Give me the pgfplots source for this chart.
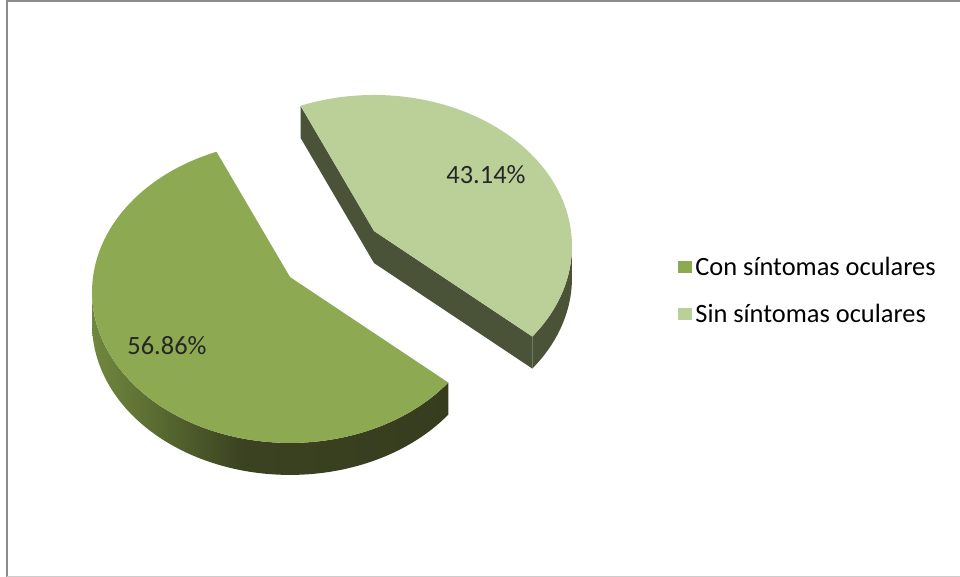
\documentclass[border=0pt]{standalone}
\usepackage{pgfplots}
\pgfplotsset{compat=1.18}
\usepackage{pgfplotstable}
\usepackage{fontspec}
\setmainfont{Carlito}

\definecolor{bigtop}{RGB}{141,169,82}
\definecolor{smalltop}{RGB}{187,208,152}
\definecolor{smallside}{RGB}{74,82,56}
\definecolor{framegray}{RGB}{140,140,140}
\pgfdeclarehorizontalshading{bigside}{100bp}{rgb(0bp)=(0.44,0.53,0.25); rgb(25bp)=(0.44,0.53,0.25); rgb(31bp)=(0.38,0.46,0.21); rgb(46bp)=(0.23,0.26,0.13); rgb(75bp)=(0.21,0.24,0.12); rgb(100bp)=(0.21,0.24,0.12)}

\pgfplotstableread{
label value
Con 56.86
Sin 43.14
}\piedata
\pgfplotstablegetelem{0}{value}\of\piedata \let\valA\pgfplotsretval%
\pgfplotstablegetelem{1}{value}\of\piedata \let\valB\pgfplotsretval%
\pgfmathsetmacro{\tA}{114}%
\pgfmathsetmacro{\tB}{\tA+3.6*\valA}%
\pgfmathsetmacro{\tC}{\tB+3.6*\valB}%

\begin{document}
\begin{tikzpicture}
\begin{axis}[
  at={(0,0)}, anchor=south west,
  width=960bp, height=577bp, scale only axis,
  xmin=0, xmax=960, ymin=0, ymax=577, y dir=reverse,
  hide axis, clip=false,
  declare function={
    den(\t)=1+0.099*sin(\t);
    ex(\t)=197*cos(\t)/den(\t);
    ey(\t)=-149.5*sin(\t)/den(\t);
    rr(\s)=(\s>=0)*(\s<=100);
    angp(\s,\p,\q)=\p+(\q-\p)*min(max(\s,0),100)/100;
    bang(\s,\p,\q)=(\s<=100)*(\p+(\q-\p)*\s/100)+(\s>100)*(\q-(\q-\p)*(\s-101)/100);
    cf(\s)=(\s>=1)*(\s<=2);
  },
  legend style={at={(axis cs:675,290.5)}, anchor=west, draw=none, fill=none,
    font=\fontsize{26.5}{30}\selectfont, row sep=25bp,
    nodes={inner xsep=3.2bp, inner ysep=1bp}},
  legend cell align=left,
  legend image code/.code={\fill[#1, draw=none] (0bp,-6bp) rectangle (14bp,6bp);},
]
% frame
\draw[framegray, line width=2.5bp] (axis cs:7,577) -- (axis cs:7,1.2) -- (axis cs:960,1.2);
\draw[gray!40, line width=1bp] (axis cs:7,576.5) -- (axis cs:960,576.5);

% big slice: side band
\addplot[forget plot, draw=none, shading=bigside, samples at={0,1,...,201}, variable=\s]
  ({290+ex(bang(\s,185.7,\tB))},{277+ey(bang(\s,185.7,\tB))+(\s>100)*32});
% big slice: top face
\addplot[forget plot, draw=none, fill=bigtop, samples at={-1,0,...,101}, variable=\s]
  ({290+rr(\s)*ex(angp(\s,\tA,\tB))},{277+rr(\s)*ey(angp(\s,\tA,\tB))});

% small slice: cut faces
\addplot[forget plot, draw=none, fill=smallside, samples at={0,1,2,3}, variable=\s]
  ({374+cf(\s)*ex(\tC)},{231+cf(\s)*ey(\tC)+(\s>=2)*32});
\addplot[forget plot, draw=none, fill=smallside, samples at={0,1,2,3}, variable=\s]
  ({374+cf(\s)*ex(\tB)},{231+cf(\s)*ey(\tB)+(\s>=2)*32});
% small slice: side band
\addplot[forget plot, draw=none, fill=smallside, samples at={0,1,...,201}, variable=\s]
  ({374+ex(bang(\s,\tB,354.3))},{231+ey(bang(\s,\tB,354.3))+(\s>100)*32});
% small slice: top face
\addplot[forget plot, draw=none, fill=smalltop, samples at={-1,0,...,101}, variable=\s]
  ({374+rr(\s)*ex(angp(\s,\tB,\tC))},{231+rr(\s)*ey(angp(\s,\tB,\tC))});

% data labels
\node[font=\fontsize{26.5}{30}\selectfont, text=black!85] at (axis cs:167,346) {56.86\%};
\node[font=\fontsize{26.5}{30}\selectfont, text=black!85] at (axis cs:486,175) {43.14\%};

\addlegendimage{fill=bigtop}
\addlegendentry{Con síntomas oculares}
\addlegendimage{fill=smalltop}
\addlegendentry{Sin síntomas oculares}
\end{axis}
\pgfresetboundingbox
\path (0,0) rectangle (960bp,577bp);
\end{tikzpicture}
\end{document}
